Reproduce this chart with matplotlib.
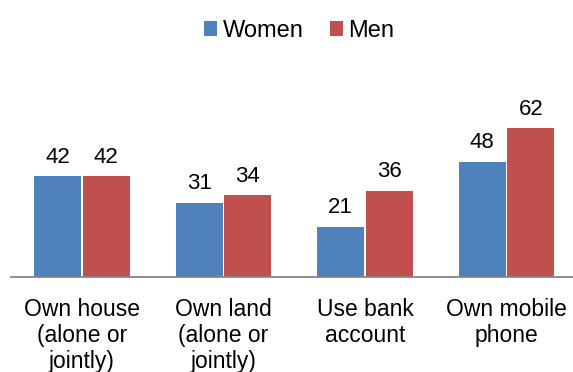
import matplotlib
matplotlib.use('Agg')

import matplotlib.pyplot as plt
import numpy as np

plt.rcParams['font.family'] = ['Liberation Sans', 'DejaVu Sans']

# chart data
categories = ['Own house\n(alone or\njointly)', 'Own land\n(alone or\njointly)',
              'Use bank\naccount', 'Own mobile\nphone']
women = [42, 31, 21, 48]
men = [42, 34, 36, 62]

blue = '#4F81BD'
red = '#C0504D'

fig = plt.figure(figsize=(5.73, 3.72), dpi=100)
# axes: x from 11px to ~577px, bottom at 277px from top
ax = fig.add_axes([11.25 / 573, 95 / 372, 566 / 573, 168 / 372])

x = np.arange(len(categories))
w = 0.332
off = 0.172

b1 = ax.bar(x - off, women, w, color=blue, label='Women')
b2 = ax.bar(x + off, men, w, color=red, label='Men')

for bars, vals in ((b1, women), (b2, men)):
    for b, v in zip(bars, vals):
        ax.text(b.get_x() + b.get_width() / 2, v + 3.6, str(v),
                ha='center', va='bottom', fontsize=16, color='black')

ax.set_xlim(-0.5, 3.5)
ax.set_ylim(0, 70)
ax.set_xticks(x)
ax.set_xticklabels(categories, fontsize=16.5, linespacing=1.17)
ax.tick_params(axis='x', length=0, pad=15)
ax.set_yticks([])

for s in ('top', 'right', 'left'):
    ax.spines[s].set_visible(False)
ax.spines['bottom'].set_color('#868686')
ax.spines['bottom'].set_linewidth(1.3)

fig.legend(handles=[b1, b2], labels=['Women', 'Men'], loc='center',
           bbox_to_anchor=(0.522, 0.917), ncol=2, frameon=False,
           fontsize=17, handlelength=0.55, handleheight=0.55,
           handletextpad=0.25, columnspacing=1.1, borderaxespad=0)

fig.savefig('out.png', dpi=100)
